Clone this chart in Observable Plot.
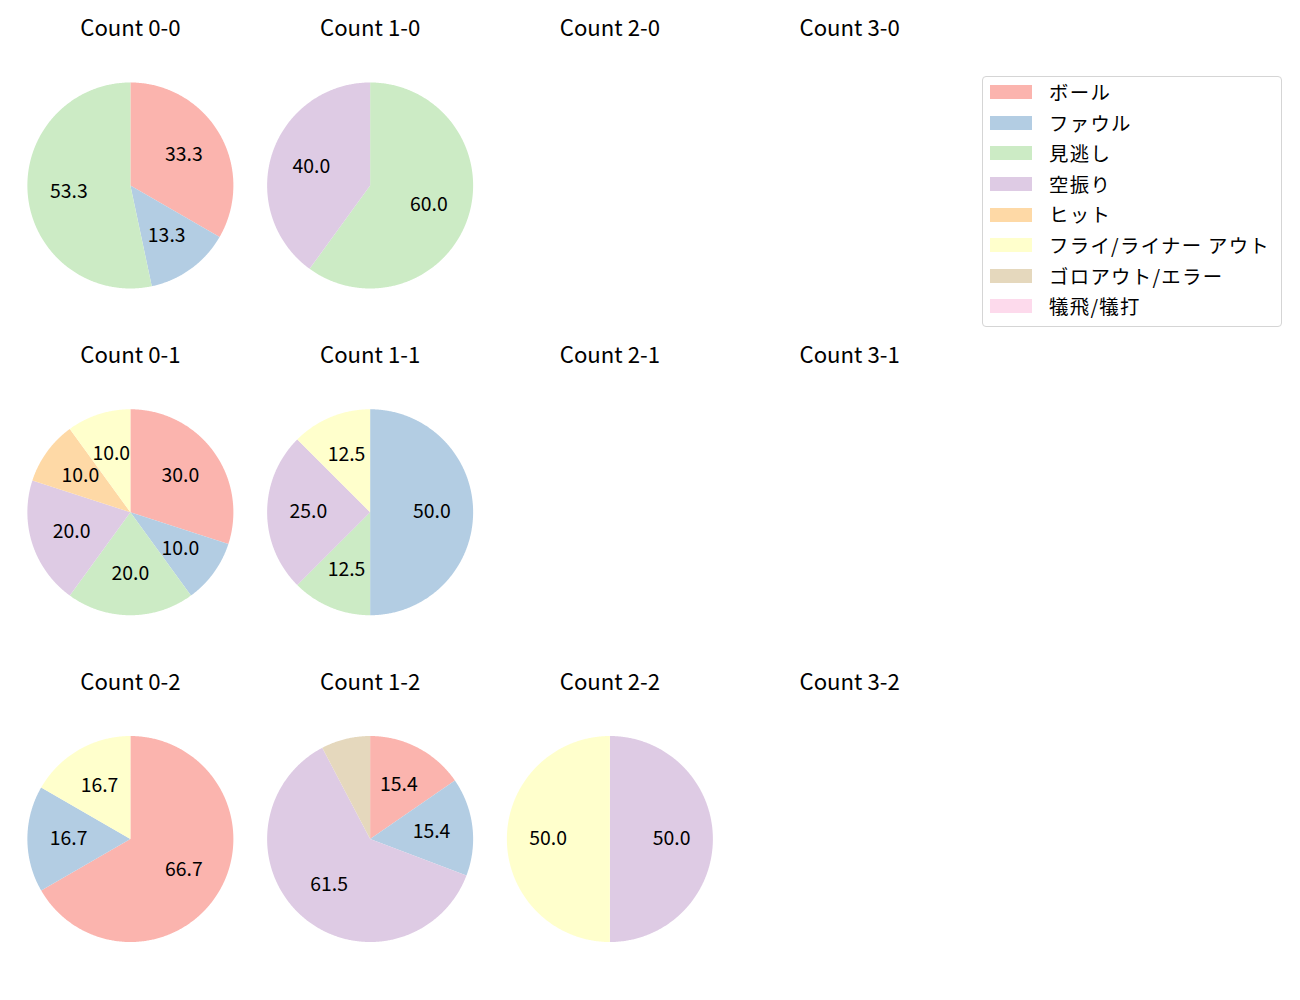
<!DOCTYPE html>
<html>
<head>
<meta charset="utf-8">
<script src="https://cdn.jsdelivr.net/npm/d3@7"></script>
<script src="https://cdn.jsdelivr.net/npm/@observablehq/plot@0.6"></script>
<style>
  html, body { margin: 0; padding: 0; background: #ffffff; }
  body { font-family: "Noto Sans CJK JP", "Noto Sans", sans-serif; }
  #wrap { position: relative; width: 1300px; height: 1000px; overflow: hidden; }
  #chart { position: absolute; left: 0; top: 0; }
  #legend {
    position: absolute; left: 982px; top: 76px; width: 300px; height: 251px;
    box-sizing: border-box; border: 1px solid #d5d5d5; border-radius: 4px;
    padding-top: 0px; background: #fff;
  }
  .row { position: relative; height: 30.6px; }
  .sw { position: absolute; left: 7px; top: 8.3px; width: 42px; height: 14px; }
  .lb { position: absolute; left: 66px; top: 0; line-height: 30.6px; font-size: 19.4px; letter-spacing: 1.3px; color: #000; white-space: nowrap; }
</style>
</head>
<body>
<div id="wrap">
  <div id="chart"></div>
  <div id="legend"></div>
</div>
<script>
// ---- data ----
const categories = ["ボール", "ファウル", "見逃し", "空振り", "ヒット", "フライ/ライナー アウト", "ゴロアウト/エラー", "犠飛/犠打"];
const palette = ["#fbb4ae", "#b3cde3", "#ccebc5", "#decbe4", "#fed9a6", "#ffffcc", "#e5d8bd", "#fddaec"];
const balls = [0, 1, 2, 3];
const strikes = [0, 1, 2];

const count00 = [5, 2, 8, 0, 0, 0, 0, 0];
const count10 = [0, 0, 3, 2, 0, 0, 0, 0];
const count20 = [0, 0, 0, 0, 0, 0, 0, 0];
const count30 = [0, 0, 0, 0, 0, 0, 0, 0];
const count01 = [3, 1, 2, 2, 1, 1, 0, 0];
const count11 = [0, 4, 1, 2, 0, 1, 0, 0];
const count21 = [0, 0, 0, 0, 0, 0, 0, 0];
const count31 = [0, 0, 0, 0, 0, 0, 0, 0];
const count02 = [4, 1, 0, 0, 0, 1, 0, 0];
const count12 = [2, 2, 0, 8, 0, 0, 1, 0];
const count22 = [0, 0, 0, 1, 0, 1, 0, 0];
const count32 = [0, 0, 0, 0, 0, 0, 0, 0];

const countNames = ["0-0", "1-0", "2-0", "3-0", "0-1", "1-1", "2-1", "3-1", "0-2", "1-2", "2-2", "3-2"];
const countValues = [count00, count10, count20, count30, count01, count11, count21, count31, count02, count12, count22, count32];

// ---- build marks data ----
const cells = countNames.map((name, i) => {
  const [b, s] = name.split("-").map(Number);
  return {name, b, s, values: countValues[i]};
});

const pie = d3.pie().sort(null).value(d => d.v);
const wedgePts = [];
const labels = [];
for (const c of cells) {
  const total = d3.sum(c.values);
  if (!total) continue;
  const items = c.values.map((v, k) => ({v, cat: categories[k]}));
  for (const a of pie(items)) {
    if (a.data.v === 0) continue;
    const id = c.name + "|" + a.data.cat;
    const span = a.endAngle - a.startAngle;
    const n = Math.max(2, Math.ceil(span / (Math.PI / 360)));
    wedgePts.push({id, cat: a.data.cat, b: c.b, s: c.s, x: 0, y: 0});
    for (let j = 0; j <= n; j++) {
      const t = a.startAngle + span * j / n;
      wedgePts.push({id, cat: a.data.cat, b: c.b, s: c.s, x: Math.sin(t), y: Math.cos(t)});
    }
    const pct = a.data.v * 100 / total;
    if (pct >= 10) {
      const m = (a.startAngle + a.endAngle) / 2;
      labels.push({b: c.b, s: c.s, x: 0.6 * Math.sin(m), y: 0.6 * Math.cos(m), text: pct.toFixed(1)});
    }
  }
}

// ---- layout ----
const W = 980, H = 1000, mL = 10, mR = 11, mT = 21.6, mB = -1.9;
const R = 103;
const bwX = (W - mL - mR) / balls.length;
const bwY = (H - mT - mB) / strikes.length;
const hx = bwX / 2 / R, hy = bwY / 2 / R;

const chart = Plot.plot({
  width: W, height: H,
  marginLeft: mL, marginRight: mR, marginTop: mT, marginBottom: mB,
  style: {fontFamily: '"Noto Sans CJK JP", "Noto Sans", sans-serif', background: "transparent"},
  fx: {domain: balls, padding: 0, round: false, axis: null},
  fy: {domain: strikes, padding: 0, round: false, axis: null},
  x: {domain: [-hx, hx], axis: null},
  y: {domain: [-hy, hy], axis: null},
  color: {type: "ordinal", domain: categories, range: palette},
  marks: [
    Plot.line(wedgePts, {x: "x", y: "y", z: "id", fill: "cat", stroke: null, fx: "b", fy: "s", curve: "linear"}),
    Plot.text(labels, {x: "x", y: "y", text: "text", fx: "b", fy: "s", fontSize: 19.4, fill: "#000"}),
    Plot.text(cells, {fx: "b", fy: "s", text: d => "Count " + d.name, frameAnchor: "top", lineAnchor: "middle", dy: 7, fontSize: 22.2, fill: "#000"})
  ]
});
document.getElementById("chart").appendChild(chart);

// ---- legend ----
const legend = document.getElementById("legend");
categories.forEach((cat, i) => {
  const row = document.createElement("div");
  row.className = "row";
  const sw = document.createElement("div");
  sw.className = "sw";
  sw.style.background = palette[i];
  const lb = document.createElement("div");
  lb.className = "lb";
  lb.textContent = cat;
  row.appendChild(sw);
  row.appendChild(lb);
  legend.appendChild(row);
});
</script>
</body>
</html>
